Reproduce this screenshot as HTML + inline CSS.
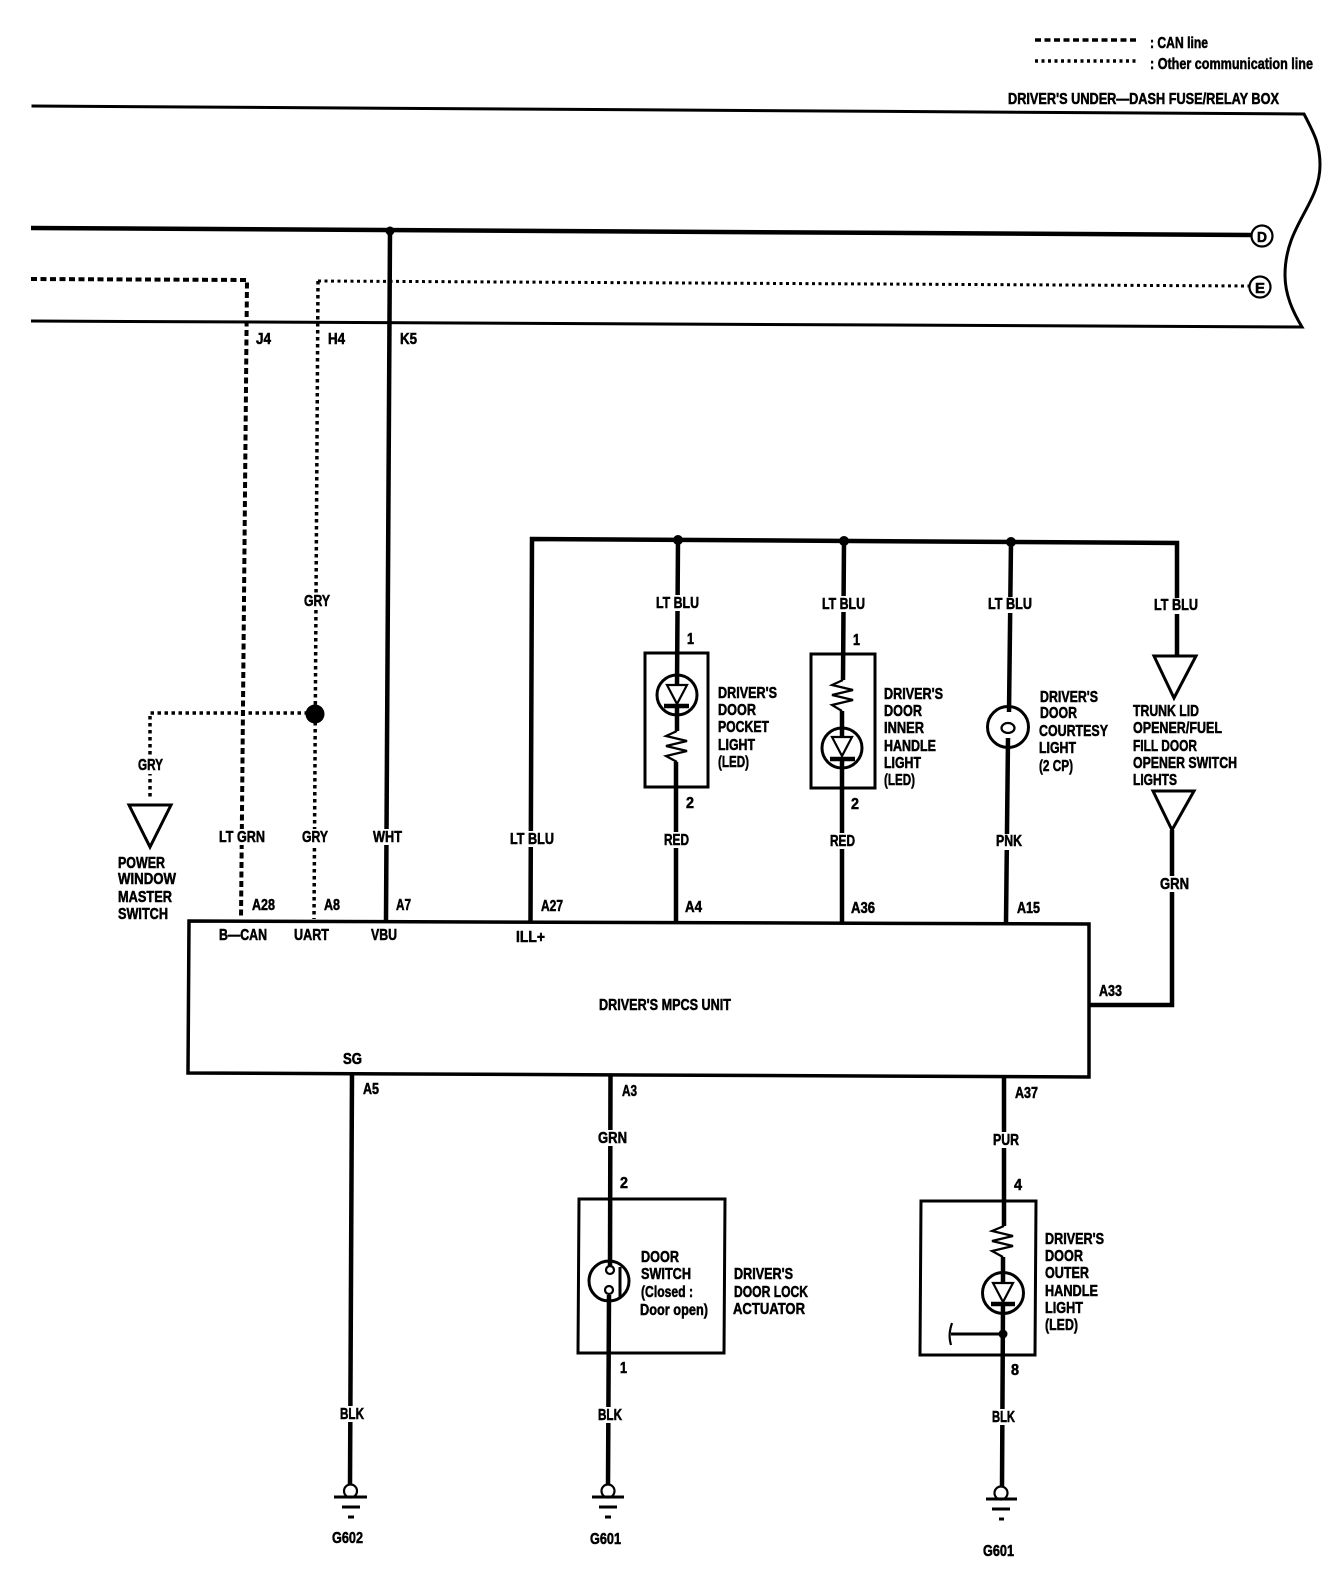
<!DOCTYPE html>
<html><head><meta charset="utf-8"><style>
html,body{margin:0;padding:0;background:#fff}
svg{display:block}
text{font-family:"Liberation Sans",sans-serif;font-weight:700;font-size:16px;fill:#000;stroke:#000;stroke-width:.55}
.w{fill:none;stroke:#000;stroke-width:4.5}
.t{fill:none;stroke:#000;stroke-width:3}
.n{fill:none;stroke:#000;stroke-width:2.2}
.e{fill:#fff;stroke:none}
</style></head><body>
<svg xmlns="http://www.w3.org/2000/svg" width="1344" height="1592" viewBox="0 0 1344 1592">
<rect width="1344" height="1592" fill="#fff"/>
<!-- legend -->
<path d="M1035 40H1137" fill="none" stroke="#000" stroke-width="3.5" stroke-dasharray="6 3.5"/>
<path d="M1035 61H1137" fill="none" stroke="#000" stroke-width="3.5" stroke-dasharray="3 3.5"/>
<!-- fuse box outline -->
<path class="t" d="M31.5 106L1304 114C1315 135 1320 145 1320 165C1320 205 1285 225 1285 275C1285 295 1293 312 1302 327L31 321"/>
<!-- D, E lines -->
<path class="w" d="M31 228L1251 235"/>
<circle class="n" cx="1262" cy="236" r="10.5" fill="#fff"/>
<path d="M318 281L1250 286" fill="none" stroke="#000" stroke-width="3" stroke-dasharray="3 3.5"/>
<circle class="n" cx="1260" cy="287" r="10.5" fill="#fff"/>
<!-- CAN -->
<path d="M31 279L247 280L241 919" fill="none" stroke="#000" stroke-width="4" stroke-dasharray="6 3.5"/>
<!-- GRY -->
<path d="M318 281L314 919" fill="none" stroke="#000" stroke-width="3.5" stroke-dasharray="3.5 3.5"/>
<path d="M315 713H150V798" fill="none" stroke="#000" stroke-width="3.5" stroke-dasharray="3.5 3.5"/>
<circle cx="315" cy="714" r="9.5" fill="#000"/>
<path class="t" d="M129 805H171L150 847Z"/>
<!-- WHT -->
<path class="w" d="M390 231L386 920"/>
<circle cx="390" cy="231" r="4.5" fill="#000"/>
<!-- LT BLU bus -->
<path class="w" d="M530.5 921L532 539L1177 543V656"/>
<circle cx="678" cy="540" r="5" fill="#000"/>
<circle cx="844" cy="541" r="5" fill="#000"/>
<circle cx="1011" cy="542" r="5" fill="#000"/>
<!-- pocket light -->
<path class="t" d="M645 653H708V787H645Z"/>
<path class="w" d="M678 540L677 685M677 704V731M676 762V922"/>
<circle class="t" cx="677" cy="695" r="20"/>
<path class="n" d="M667 685H687L677 704Z"/>
<path class="w" d="M664 706H689"/>
<path class="n" d="M677 731L666 736L687 741L666 746L687 751L666 756L677 762"/>
<!-- inner handle light -->
<path class="t" d="M811 654H875V788H811Z"/>
<path class="w" d="M844 541L843 680M842 711V737M842 759V922"/>
<path class="n" d="M843 680L832 685L853 690L832 695L853 700L832 705L842 711"/>
<circle class="t" cx="842" cy="748" r="20"/>
<path class="n" d="M832 737H852L842 756Z"/>
<path class="w" d="M830 759H855"/>
<!-- courtesy -->
<path class="w" d="M1011 542L1009 712M1008 738L1006 923"/>
<circle class="t" cx="1008" cy="727" r="20.5"/>
<ellipse class="n" cx="1008" cy="728" rx="6.5" ry="5"/>
<!-- trunk -->
<path class="t" d="M1154 656H1196L1174 698Z"/>
<path class="t" d="M1153 791H1194L1172 830Z"/>
<path class="w" d="M1172 830V1005H1090"/>
<!-- MPCS -->
<path d="M189 921L1089 924L1089 1077L188 1073Z" fill="none" stroke="#000" stroke-width="3.5"/>
<!-- SG -->
<path class="w" d="M352 1073L350 1485"/>
<circle class="n" cx="350.500" cy="1491" r="6.500" fill="#fff"/>
<path class="t" d="M334 1497H367M342 1507H360M348 1517H354"/>
<!-- door lock actuator -->
<path class="t" d="M579 1199H725L724 1353L578 1353Z"/>
<path class="w" d="M610.500 1075L610 1266M609 1295L608 1485"/>
<circle class="t" cx="609" cy="1281" r="20"/>
<circle class="n" cx="610" cy="1270" r="4"/>
<circle class="n" cx="609" cy="1290" r="4"/>
<path class="t" d="M620 1267V1298"/>
<circle class="n" cx="608" cy="1491" r="6.500" fill="#fff"/>
<path class="t" d="M592 1497H624M599 1507H617M605 1517H611"/>
<!-- outer handle -->
<path class="t" d="M921 1201L1036 1201L1035 1355L920 1355Z"/>
<path class="w" d="M1004 1076V1226M1003 1257V1283M1003 1304L1002 1487"/>
<path class="n" d="M1004 1226L992 1231L1013 1236L992 1241L1013 1246L992 1251L1003 1257"/>
<circle class="t" cx="1003" cy="1293" r="20.500"/>
<path class="n" d="M993 1283H1013L1003 1302Z"/>
<path class="w" d="M991 1304H1015"/>
<circle cx="1003" cy="1334" r="4.500" fill="#000"/>
<path class="t" d="M1003 1334H951"/>
<path class="n" d="M952 1323C949 1332 949 1338 951 1345"/>
<circle class="n" cx="1001" cy="1493" r="6.500" fill="#fff"/>
<path class="t" d="M986 1499H1017M992 1509H1010M999 1519H1004"/>

<!-- white gaps behind wire labels -->
<rect class="e" x="300" y="594" width="34" height="16"/>
<rect class="e" x="135" y="758" width="32" height="16"/>
<rect class="e" x="217" y="829" width="50" height="16"/>
<rect class="e" x="300" y="829" width="30" height="16"/>
<rect class="e" x="371" y="829" width="33" height="16"/>
<rect class="e" x="508" y="831" width="48" height="16"/>
<rect class="e" x="654" y="595" width="47" height="16"/>
<rect class="e" x="820" y="596" width="47" height="16"/>
<rect class="e" x="987" y="597" width="47" height="16"/>
<rect class="e" x="1152" y="598" width="48" height="16"/>
<rect class="e" x="662" y="832" width="29" height="16"/>
<rect class="e" x="828" y="833" width="29" height="16"/>
<rect class="e" x="994" y="834" width="30" height="16"/>
<rect class="e" x="1158" y="876" width="33" height="16"/>
<rect class="e" x="596" y="1130" width="33" height="16"/>
<rect class="e" x="992" y="1132" width="30" height="16"/>
<rect class="e" x="338" y="1406" width="28" height="16"/>
<rect class="e" x="596" y="1407" width="28" height="16"/>
<rect class="e" x="990" y="1409" width="27" height="16"/>

<!-- labels -->
<g transform="translate(0,-1)">
<text x="1150" y="49" textLength="58" lengthAdjust="spacingAndGlyphs">: CAN line</text>
<text x="1150" y="70" textLength="163" lengthAdjust="spacingAndGlyphs">: Other communication line</text>
<text x="1008" y="105" textLength="271" lengthAdjust="spacingAndGlyphs">DRIVER'S UNDER—DASH FUSE/RELAY BOX</text>
<text x="256" y="345" textLength="15" lengthAdjust="spacingAndGlyphs">J4</text>
<text x="328" y="345" textLength="17" lengthAdjust="spacingAndGlyphs">H4</text>
<text x="400" y="345" textLength="17" lengthAdjust="spacingAndGlyphs">K5</text>
<text x="304" y="607" textLength="26" lengthAdjust="spacingAndGlyphs">GRY</text>
<text x="138" y="771" textLength="25" lengthAdjust="spacingAndGlyphs">GRY</text>
<text x="219" y="843" textLength="46" lengthAdjust="spacingAndGlyphs">LT GRN</text>
<text x="302" y="843" textLength="26" lengthAdjust="spacingAndGlyphs">GRY</text>
<text x="373" y="843" textLength="29" lengthAdjust="spacingAndGlyphs">WHT</text>
<text x="510" y="845" textLength="44" lengthAdjust="spacingAndGlyphs">LT BLU</text>
<text x="252" y="911" textLength="23" lengthAdjust="spacingAndGlyphs">A28</text>
<text x="324" y="911" textLength="16" lengthAdjust="spacingAndGlyphs">A8</text>
<text x="396" y="911" textLength="15" lengthAdjust="spacingAndGlyphs">A7</text>
<text x="118" y="869" textLength="47" lengthAdjust="spacingAndGlyphs">POWER</text>
<text x="118" y="885" textLength="58" lengthAdjust="spacingAndGlyphs">WINDOW</text>
<text x="118" y="903" textLength="54" lengthAdjust="spacingAndGlyphs">MASTER</text>
<text x="118" y="920" textLength="50" lengthAdjust="spacingAndGlyphs">SWITCH</text>
<text x="219" y="941" textLength="48" lengthAdjust="spacingAndGlyphs">B—CAN</text>
<text x="294" y="941" textLength="35" lengthAdjust="spacingAndGlyphs">UART</text>
<text x="371" y="941" textLength="26" lengthAdjust="spacingAndGlyphs">VBU</text>
<text x="516" y="943" textLength="29" lengthAdjust="spacingAndGlyphs">ILL+</text>
<text x="656" y="609" textLength="43" lengthAdjust="spacingAndGlyphs">LT BLU</text>
<text x="822" y="610" textLength="43" lengthAdjust="spacingAndGlyphs">LT BLU</text>
<text x="988" y="610" textLength="44" lengthAdjust="spacingAndGlyphs">LT BLU</text>
<text x="1154" y="611" textLength="44" lengthAdjust="spacingAndGlyphs">LT BLU</text>
<text x="687" y="645" textLength="7" lengthAdjust="spacingAndGlyphs">1</text>
<text x="853" y="646" textLength="7" lengthAdjust="spacingAndGlyphs">1</text>
<text x="686" y="809" textLength="8" lengthAdjust="spacingAndGlyphs">2</text>
<text x="851" y="810" textLength="8" lengthAdjust="spacingAndGlyphs">2</text>
<text x="718" y="699" textLength="59" lengthAdjust="spacingAndGlyphs">DRIVER'S</text>
<text x="718" y="716" textLength="38" lengthAdjust="spacingAndGlyphs">DOOR</text>
<text x="718" y="733" textLength="51" lengthAdjust="spacingAndGlyphs">POCKET</text>
<text x="718" y="751" textLength="37" lengthAdjust="spacingAndGlyphs">LIGHT</text>
<text x="718" y="768" textLength="31" lengthAdjust="spacingAndGlyphs">(LED)</text>
<text x="884" y="700" textLength="59" lengthAdjust="spacingAndGlyphs">DRIVER'S</text>
<text x="884" y="717" textLength="38" lengthAdjust="spacingAndGlyphs">DOOR</text>
<text x="884" y="734" textLength="40" lengthAdjust="spacingAndGlyphs">INNER</text>
<text x="884" y="752" textLength="52" lengthAdjust="spacingAndGlyphs">HANDLE</text>
<text x="884" y="769" textLength="37" lengthAdjust="spacingAndGlyphs">LIGHT</text>
<text x="884" y="786" textLength="31" lengthAdjust="spacingAndGlyphs">(LED)</text>
<text x="1040" y="703" textLength="58" lengthAdjust="spacingAndGlyphs">DRIVER'S</text>
<text x="1040" y="719" textLength="37" lengthAdjust="spacingAndGlyphs">DOOR</text>
<text x="1039" y="737" textLength="69" lengthAdjust="spacingAndGlyphs">COURTESY</text>
<text x="1039" y="754" textLength="37" lengthAdjust="spacingAndGlyphs">LIGHT</text>
<text x="1039" y="772" textLength="34" lengthAdjust="spacingAndGlyphs">(2 CP)</text>
<text x="1133" y="717" textLength="66" lengthAdjust="spacingAndGlyphs">TRUNK LID</text>
<text x="1133" y="734" textLength="89" lengthAdjust="spacingAndGlyphs">OPENER/FUEL</text>
<text x="1133" y="752" textLength="64" lengthAdjust="spacingAndGlyphs">FILL DOOR</text>
<text x="1133" y="769" textLength="104" lengthAdjust="spacingAndGlyphs">OPENER SWITCH</text>
<text x="1133" y="786" textLength="44" lengthAdjust="spacingAndGlyphs">LIGHTS</text>
<text x="664" y="846" textLength="25" lengthAdjust="spacingAndGlyphs">RED</text>
<text x="830" y="847" textLength="25" lengthAdjust="spacingAndGlyphs">RED</text>
<text x="996" y="847" textLength="26" lengthAdjust="spacingAndGlyphs">PNK</text>
<text x="1160" y="890" textLength="29" lengthAdjust="spacingAndGlyphs">GRN</text>
<text x="541" y="912" textLength="22" lengthAdjust="spacingAndGlyphs">A27</text>
<text x="685" y="913" textLength="17" lengthAdjust="spacingAndGlyphs">A4</text>
<text x="851" y="914" textLength="24" lengthAdjust="spacingAndGlyphs">A36</text>
<text x="1017" y="914" textLength="23" lengthAdjust="spacingAndGlyphs">A15</text>
<text x="1099" y="997" textLength="23" lengthAdjust="spacingAndGlyphs">A33</text>
<text x="599" y="1011" textLength="132" lengthAdjust="spacingAndGlyphs">DRIVER'S MPCS UNIT</text>
<text x="343" y="1065" textLength="19" lengthAdjust="spacingAndGlyphs">SG</text>
<text x="363" y="1095" textLength="16" lengthAdjust="spacingAndGlyphs">A5</text>
<text x="622" y="1097" textLength="15" lengthAdjust="spacingAndGlyphs">A3</text>
<text x="1015" y="1099" textLength="23" lengthAdjust="spacingAndGlyphs">A37</text>
<text x="598" y="1144" textLength="29" lengthAdjust="spacingAndGlyphs">GRN</text>
<text x="993" y="1146" textLength="26" lengthAdjust="spacingAndGlyphs">PUR</text>
<text x="620" y="1189" textLength="8" lengthAdjust="spacingAndGlyphs">2</text>
<text x="1014" y="1191" textLength="8" lengthAdjust="spacingAndGlyphs">4</text>
<text x="641" y="1263" textLength="38" lengthAdjust="spacingAndGlyphs">DOOR</text>
<text x="641" y="1280" textLength="50" lengthAdjust="spacingAndGlyphs">SWITCH</text>
<text x="641" y="1298" textLength="52" lengthAdjust="spacingAndGlyphs">(Closed :</text>
<text x="640" y="1316" textLength="68" lengthAdjust="spacingAndGlyphs">Door open)</text>
<text x="734" y="1280" textLength="59" lengthAdjust="spacingAndGlyphs">DRIVER'S</text>
<text x="734" y="1298" textLength="74" lengthAdjust="spacingAndGlyphs">DOOR LOCK</text>
<text x="733" y="1315" textLength="72" lengthAdjust="spacingAndGlyphs">ACTUATOR</text>
<text x="620" y="1374" textLength="7" lengthAdjust="spacingAndGlyphs">1</text>
<text x="1011" y="1376" textLength="8" lengthAdjust="spacingAndGlyphs">8</text>
<text x="1045" y="1245" textLength="59" lengthAdjust="spacingAndGlyphs">DRIVER'S</text>
<text x="1045" y="1262" textLength="38" lengthAdjust="spacingAndGlyphs">DOOR</text>
<text x="1045" y="1279" textLength="44" lengthAdjust="spacingAndGlyphs">OUTER</text>
<text x="1045" y="1297" textLength="53" lengthAdjust="spacingAndGlyphs">HANDLE</text>
<text x="1045" y="1314" textLength="38" lengthAdjust="spacingAndGlyphs">LIGHT</text>
<text x="1045" y="1331" textLength="33" lengthAdjust="spacingAndGlyphs">(LED)</text>
<text x="340" y="1420" textLength="24" lengthAdjust="spacingAndGlyphs">BLK</text>
<text x="598" y="1421" textLength="24" lengthAdjust="spacingAndGlyphs">BLK</text>
<text x="992" y="1423" textLength="23" lengthAdjust="spacingAndGlyphs">BLK</text>
<text x="332" y="1544" textLength="31" lengthAdjust="spacingAndGlyphs">G602</text>
<text x="590" y="1545" textLength="31" lengthAdjust="spacingAndGlyphs">G601</text>
<text x="983" y="1557" textLength="31" lengthAdjust="spacingAndGlyphs">G601</text>
<text x="1257" y="243" textLength="10" lengthAdjust="spacingAndGlyphs" style="font-size:15px">D</text>
<text x="1255" y="294" textLength="10" lengthAdjust="spacingAndGlyphs" style="font-size:15px">E</text>
</g>
</svg>
</body></html>
